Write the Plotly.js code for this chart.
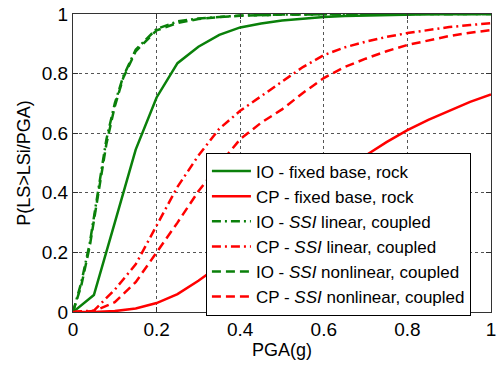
<!DOCTYPE html>
<html>
<head>
<meta charset="utf-8">
<script src="https://cdn.plot.ly/plotly-3.0.1.min.js"></script>
<style>
html,body{margin:0;padding:0;background:#fff;}
#chart{width:497px;height:366px;}
</style>
</head>
<body>
<div id="chart"></div>
<script>
// PGA grids (g)
const pgaFixed = [0,0.05,0.1,0.15,0.2,0.25,0.3,0.35,0.4,0.45,0.5,0.55,0.6,0.65,0.7,0.75,0.8,0.85,0.9,0.95,1.0];
const pgaSSI_IO = [0,0.02,0.04,0.06,0.08,0.1,0.12,0.15,0.2,0.25,0.3,0.35,0.4,0.5,0.6,0.7,0.8,0.9,1.0];
const pgaSSI_CP = [0,0.05,0.1,0.15,0.2,0.25,0.3,0.35,0.4,0.45,0.5,0.55,0.6,0.65,0.7,0.75,0.8,0.85,0.9,0.95,1.0];

// Fragility values P(LS>LSi/PGA)
const ioFixed = [0,0.057,0.30,0.545,0.72,0.835,0.89,0.93,0.955,0.968,0.978,0.985,0.99,0.993,0.995,0.997,0.998,0.999,0.999,1,1];
const cpFixed = [0,0.0,0.003,0.012,0.03,0.06,0.105,0.155,0.21,0.27,0.325,0.38,0.43,0.48,0.525,0.57,0.61,0.645,0.675,0.705,0.73];
const ioSSIlin = [0,0.10,0.23,0.40,0.58,0.70,0.79,0.88,0.95,0.975,0.985,0.99,0.995,0.998,1,1,1,1,1];
const ioSSInonlin = [0,0.09,0.22,0.39,0.565,0.69,0.785,0.875,0.945,0.97,0.983,0.99,0.994,0.998,1,1,1,1,1];
const cpSSIlin = [0,0.005,0.075,0.16,0.29,0.42,0.525,0.615,0.675,0.725,0.775,0.822,0.862,0.888,0.907,0.923,0.936,0.947,0.956,0.963,0.969];
const cpSSInonlin = [0,0.003,0.033,0.10,0.20,0.30,0.405,0.495,0.58,0.635,0.68,0.735,0.785,0.822,0.85,0.875,0.896,0.912,0.926,0.937,0.946];

const names = [
  'IO - fixed base, rock',
  'CP - fixed base, rock',
  'IO - <i>SSI</i> linear, coupled',
  'CP - <i>SSI</i> linear, coupled',
  'IO - <i>SSI</i> nonlinear, coupled',
  'CP - <i>SSI</i> nonlinear, coupled'
];

const GREEN = '#0a800a', RED = '#ff0000';
const DASHDOT = '9px,4px,2px,4px', DASH = '9px,5px';

const traces = [
  {x: pgaFixed, y: ioFixed, name: names[0], line: {color: GREEN, width: 2.5}},
  {x: pgaFixed, y: cpFixed, name: names[1], line: {color: RED, width: 2.5}},
  {x: pgaSSI_IO, y: ioSSIlin, name: names[2], line: {color: GREEN, width: 2.5, dash: DASHDOT}},
  {x: pgaSSI_CP, y: cpSSIlin, name: names[3], line: {color: RED, width: 2.5, dash: DASHDOT}},
  {x: pgaSSI_IO, y: ioSSInonlin, name: names[4], line: {color: GREEN, width: 2.5, dash: DASH}},
  {x: pgaSSI_CP, y: cpSSInonlin, name: names[5], line: {color: RED, width: 2.5, dash: DASH}}
].map(t => Object.assign({type: 'scatter', mode: 'lines'}, t));

const FONT = 'Arial, "Liberation Sans", sans-serif';
const axisCommon = {
  range: [0, 1], dtick: 0.2, tick0: 0,
  showline: true, linecolor: '#333', linewidth: 1, mirror: 'ticks',
  ticks: 'inside', ticklen: 5, tickcolor: '#333',
  showgrid: true, gridcolor: '#555', griddash: 'dot', gridwidth: 1,
  zeroline: false, ticklabeloverflow: 'allow',
  tickfont: {family: FONT, size: 19, color: '#000'}
};

const layout = {
  width: 497, height: 366,
  margin: {l: 73, r: 6, t: 14, b: 54},
  paper_bgcolor: '#fff', plot_bgcolor: '#fff',
  font: {family: FONT, color: '#000'},
  xaxis: Object.assign({}, axisCommon, {title: {text: 'PGA(g)', font: {family: FONT, size: 18}, standoff: 4}}),
  yaxis: Object.assign({}, axisCommon, {title: {text: 'P(LS>LSi/PGA)', font: {family: FONT, size: 18}, standoff: 6}}),
  showlegend: true,
  legend: {
    x: 0.318, y: 0.535, xanchor: 'left', yanchor: 'top',
    bgcolor: '#fff', bordercolor: '#000', borderwidth: 1,
    font: {family: FONT, size: 17, color: '#000'},
    itemwidth: 39,
    tracegroupgap: 0
  }
};

Plotly.newPlot('chart', traces, layout, {displayModeBar: false, staticPlot: true});
</script>
</body>
</html>
